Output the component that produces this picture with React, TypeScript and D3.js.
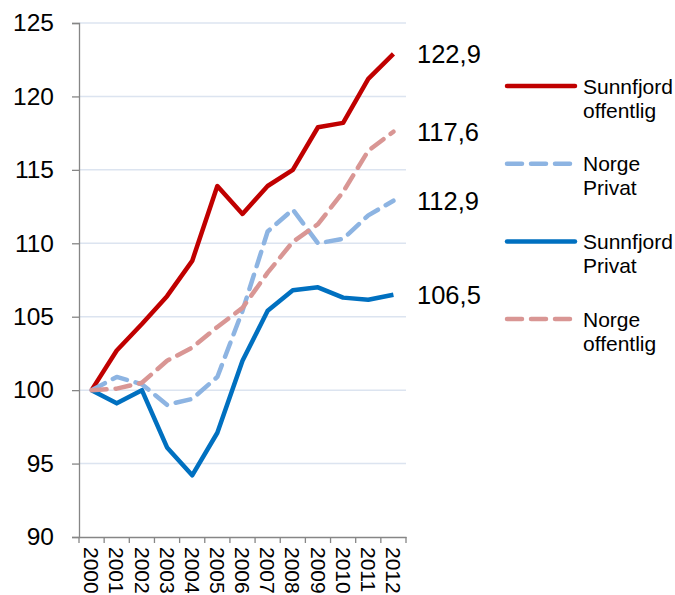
import { useRef, useEffect } from 'react';
import * as d3 from 'd3';

const years = ['2000', '2001', '2002', '2003', '2004', '2005', '2006', '2007', '2008', '2009', '2010', '2011', '2012'];

const sunnfjordOffentlig = [100, 102.7, 104.5, 106.4, 108.8, 113.9, 112.0, 113.9, 115.0, 117.9, 118.2, 121.2, 122.9];
const norgePrivat = [100, 100.9, 100.4, 99.0, 99.4, 100.9, 105.4, 110.8, 112.3, 110.0, 110.3, 111.9, 112.9];
const sunnfjordPrivat = [100, 99.1, 100.0, 96.1, 94.2, 97.1, 102.0, 105.4, 106.8, 107.0, 106.3, 106.15, 106.5];
const norgeOffentlig = [100, 100.1, 100.5, 102.0, 102.9, 104.3, 105.6, 108.0, 110.1, 111.3, 113.5, 116.3, 117.6];

const endLabels = ['122,9', '117,6', '112,9', '106,5'];
const endValues = [122.9, 117.6, 112.9, 106.5];

const series = [
  { name: ['Sunnfjord', 'offentlig'], values: sunnfjordOffentlig, color: '#C00000', dashed: false },
  { name: ['Norge', 'Privat'], values: norgePrivat, color: '#8DB4E2', dashed: true },
  { name: ['Sunnfjord', 'Privat'], values: sunnfjordPrivat, color: '#0070C0', dashed: false },
  { name: ['Norge', 'offentlig'], values: norgeOffentlig, color: '#D99694', dashed: true },
];

const yTicks = [90, 95, 100, 105, 110, 115, 120, 125];

export default function App() {
  const svgRef = useRef<SVGSVGElement>(null);

  useEffect(() => {
    if (!svgRef.current) return;
    const svg = d3.select(svgRef.current);
    svg.selectAll('*').remove();

    const font = '"Liberation Sans", Arial, sans-serif';
    const left = 79, right = 406, top = 23, bottom = 537;

    const x = d3.scaleBand<string>().domain(years).range([left, right]);
    const y = d3.scaleLinear().domain([90, 125]).range([bottom, top]);
    const cx = (i: number) => (x(years[i]) as number) + x.bandwidth() / 2;

    // gridlines
    svg.append('g')
      .selectAll('line')
      .data(yTicks.filter(t => t > 90))
      .join('line')
      .attr('x1', left)
      .attr('x2', right)
      .attr('y1', d => y(d))
      .attr('y2', d => y(d))
      .attr('stroke', '#DCE4F0')
      .attr('stroke-width', 1.5);

    // y axis
    const yAxis = svg.append('g')
      .attr('transform', `translate(${left},0)`)
      .call(d3.axisLeft(y).tickValues(yTicks).tickSize(7).tickPadding(18).tickFormat(d3.format('d')));
    yAxis.select('.domain').attr('stroke', '#868686').attr('stroke-width', 1.3);
    yAxis.selectAll('.tick line').attr('stroke', '#868686').attr('stroke-width', 1.3);
    yAxis.selectAll('.tick text')
      .attr('font-family', font)
      .attr('font-size', 24.5)
      .attr('fill', '#000');

    // x axis
    const xAxis = svg.append('g')
      .attr('transform', `translate(0,${bottom})`)
      .call(d3.axisBottom(x).tickSize(0).tickFormat(() => ''));
    xAxis.select('.domain').attr('stroke', '#868686').attr('stroke-width', 1.3);
    xAxis.selectAll('.tick').remove();

    const bounds = years.map(yr => x(yr) as number).concat([right]);
    svg.append('g')
      .selectAll('line')
      .data(bounds)
      .join('line')
      .attr('x1', d => d)
      .attr('x2', d => d)
      .attr('y1', bottom)
      .attr('y2', bottom + 6)
      .attr('stroke', '#868686')
      .attr('stroke-width', 1.3);

    // rotated year labels, sized to stay inside the frame
    svg.append('g')
      .selectAll('text')
      .data(years)
      .join('text')
      .attr('transform', (d, i) => `translate(${cx(i)},${bottom + 10}) rotate(90)`)
      .attr('dy', '0.35em')
      .attr('font-family', font)
      .attr('font-size', 21)
      .attr('fill', '#000')
      .text(d => d);

    // lines
    const line = d3.line<number>()
      .x((d, i) => cx(i))
      .y(d => y(d));

    series.forEach(s => {
      svg.append('path')
        .datum(s.values)
        .attr('fill', 'none')
        .attr('stroke', s.color)
        .attr('stroke-width', 4.5)
        .attr('stroke-linejoin', 'round')
        .attr('stroke-linecap', s.dashed ? 'round' : 'butt')
        .attr('stroke-dasharray', s.dashed ? '15 9' : null)
        .attr('d', line);
    });

    // end value labels
    svg.append('g')
      .selectAll('text')
      .data(endValues)
      .join('text')
      .attr('x', 417)
      .attr('y', d => y(d))
      .attr('dy', '0.35em')
      .attr('font-family', font)
      .attr('font-size', 25.5)
      .attr('fill', '#000')
      .text((d, i) => endLabels[i]);

    // legend
    const legend = svg.append('g').attr('transform', 'translate(507,86)');
    series.forEach((s, i) => {
      const g = legend.append('g').attr('transform', `translate(0,${i * 77.7})`);
      g.append('line')
        .attr('x1', 0)
        .attr('x2', 68)
        .attr('stroke', s.color)
        .attr('stroke-width', 4.5)
        .attr('stroke-linecap', 'round')
        .attr('stroke-dasharray', s.dashed ? '15 9' : null);
      g.append('text')
        .attr('x', 76)
        .attr('y', 7.5)
        .attr('font-family', font)
        .attr('font-size', 21)
        .attr('fill', '#000')
        .selectAll('tspan')
        .data(s.name)
        .join('tspan')
        .attr('x', 76)
        .attr('dy', (d, j) => (j === 0 ? 0 : 24))
        .text(d => d);
    });
  }, []);

  return (
    <svg
      ref={svgRef}
      width={675}
      height={595}
      style={{ position: 'absolute', left: 0, top: 0, background: '#fff' }}
    />
  );
}
